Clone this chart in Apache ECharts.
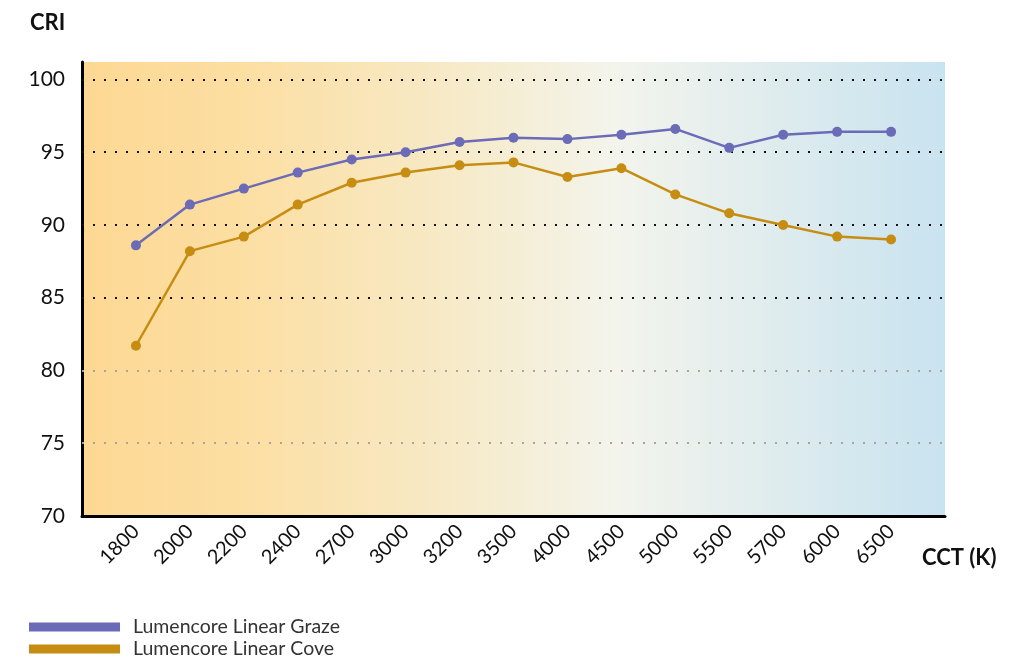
<!DOCTYPE html>
<html>
<head>
<meta charset="utf-8">
<title>CRI vs CCT</title>
<script src="https://cdn.jsdelivr.net/npm/echarts@6/dist/echarts.min.js"></script>
<style>
  html, body { margin: 0; padding: 0; background: #fff; }
  #chart { width: 1014px; height: 657px; }
</style>
</head>
<body>
<div id="chart"></div>
<script>
// 色温分类 (K)
var cctLabels = ['1800', '2000', '2200', '2400', '2700', '3000', '3200', '3500',
                 '4000', '4500', '5000', '5500', '5700', '6000', '6500'];
// 两条产品线的显色指数
var grazeCri = [88.6, 91.4, 92.5, 93.6, 94.5, 95.0, 95.7, 96.0,
                95.9, 96.2, 96.6, 95.3, 96.2, 96.4, 96.4];
var coveCri = [81.7, 88.2, 89.2, 91.4, 92.9, 93.6, 94.1, 94.3,
               93.3, 93.9, 92.1, 90.8, 90.0, 89.2, 89.0];
var seriesNames = ['Lumencore Linear Graze', 'Lumencore Linear Cove'];
// 网格线位置
var darkGrid = [100, 95, 90, 85];
var lightGrid = [80, 75];

var FONT = 'Lato, "DejaVu Sans", sans-serif';
var PURPLE = '#6b6bb7';
var GOLD = '#c68d12';

// 前后各留一个空位, 让首尾点离开坐标轴
var xCats = [' '].concat(cctLabels).concat(['  ']);

var gridLines = darkGrid.map(function (v) {
  return { yAxis: v, lineStyle: { color: '#111' } };
}).concat(lightGrid.map(function (v) {
  return { yAxis: v, lineStyle: { color: '#a9a59c' } };
}));

// 图例: 每条一行, 上下排列
var legendTops = [617, 639];
var legends = seriesNames.map(function (name, i) {
  return {
    left: 29,
    top: legendTops[i],
    padding: 0,
    itemWidth: 91,
    itemHeight: 9,
    icon: 'rect',
    data: [name],
    textStyle: { fontFamily: FONT, fontSize: 19.5, color: '#333', padding: [0, 0, 0, 8] }
  };
});

var myChart = echarts.init(document.getElementById('chart'));
var option = {
  animation: false,
  title: [
    { text: 'CRI', left: 30, top: 12, padding: 0,
      textStyle: { fontFamily: FONT, fontSize: 22, fontWeight: 'bold', color: '#111' } },
    { text: 'CCT (K)', left: 922, top: 547, padding: 0,
      textStyle: { fontFamily: FONT, fontSize: 22, fontWeight: 'bold', color: '#111' } }
  ],
  legend: legends,
  grid: {
    left: 82, right: 69, top: 62, bottom: 141,
    show: true,
    borderWidth: 0,
    backgroundColor: new echarts.graphic.LinearGradient(0, 0, 1, 0, [
      { offset: 0, color: '#fdd893' },
      { offset: 0.2, color: '#fcdfa4' },
      { offset: 0.45, color: '#f6ebcc' },
      { offset: 0.62, color: '#f3f4ec' },
      { offset: 1, color: '#c9e3f0' }
    ])
  },
  xAxis: {
    type: 'category',
    data: xCats,
    boundaryGap: false,
    axisLine: { lineStyle: { color: '#000', width: 3 } },
    axisTick: { show: false },
    splitLine: { show: false },
    axisLabel: {
      rotate: 45,
      margin: 12,
      fontFamily: FONT,
      fontSize: 20,
      color: '#111',
      interval: 0
    }
  },
  yAxis: {
    type: 'value',
    min: 70,
    max: 101.2,
    interval: 5,
    axisLine: { show: true, lineStyle: { color: '#000', width: 3 } },
    axisTick: { show: false },
    splitLine: { show: false },
    axisLabel: {
      margin: 17,
      fontFamily: FONT,
      fontSize: 21,
      color: '#111',
      formatter: function (v) { return v % 5 === 0 ? v : ''; }
    }
  },
  series: [
    {
      name: seriesNames[0],
      type: 'line',
      data: cctLabels.map(function (c, i) { return [c, grazeCri[i]]; }),
      symbol: 'circle',
      symbolSize: 10,
      color: PURPLE,
      lineStyle: { width: 2.5, color: PURPLE },
      itemStyle: { color: PURPLE },
      z: 3,
      markLine: {
        silent: true,
        symbol: 'none',
        label: { show: false },
        lineStyle: { type: [2, 9], width: 2 },
        data: gridLines,
        z: 1
      }
    },
    {
      name: seriesNames[1],
      type: 'line',
      data: cctLabels.map(function (c, i) { return [c, coveCri[i]]; }),
      symbol: 'circle',
      symbolSize: 10,
      color: GOLD,
      lineStyle: { width: 2.5, color: GOLD },
      itemStyle: { color: GOLD },
      z: 3
    }
  ]
};
myChart.setOption(option);
</script>
</body>
</html>
